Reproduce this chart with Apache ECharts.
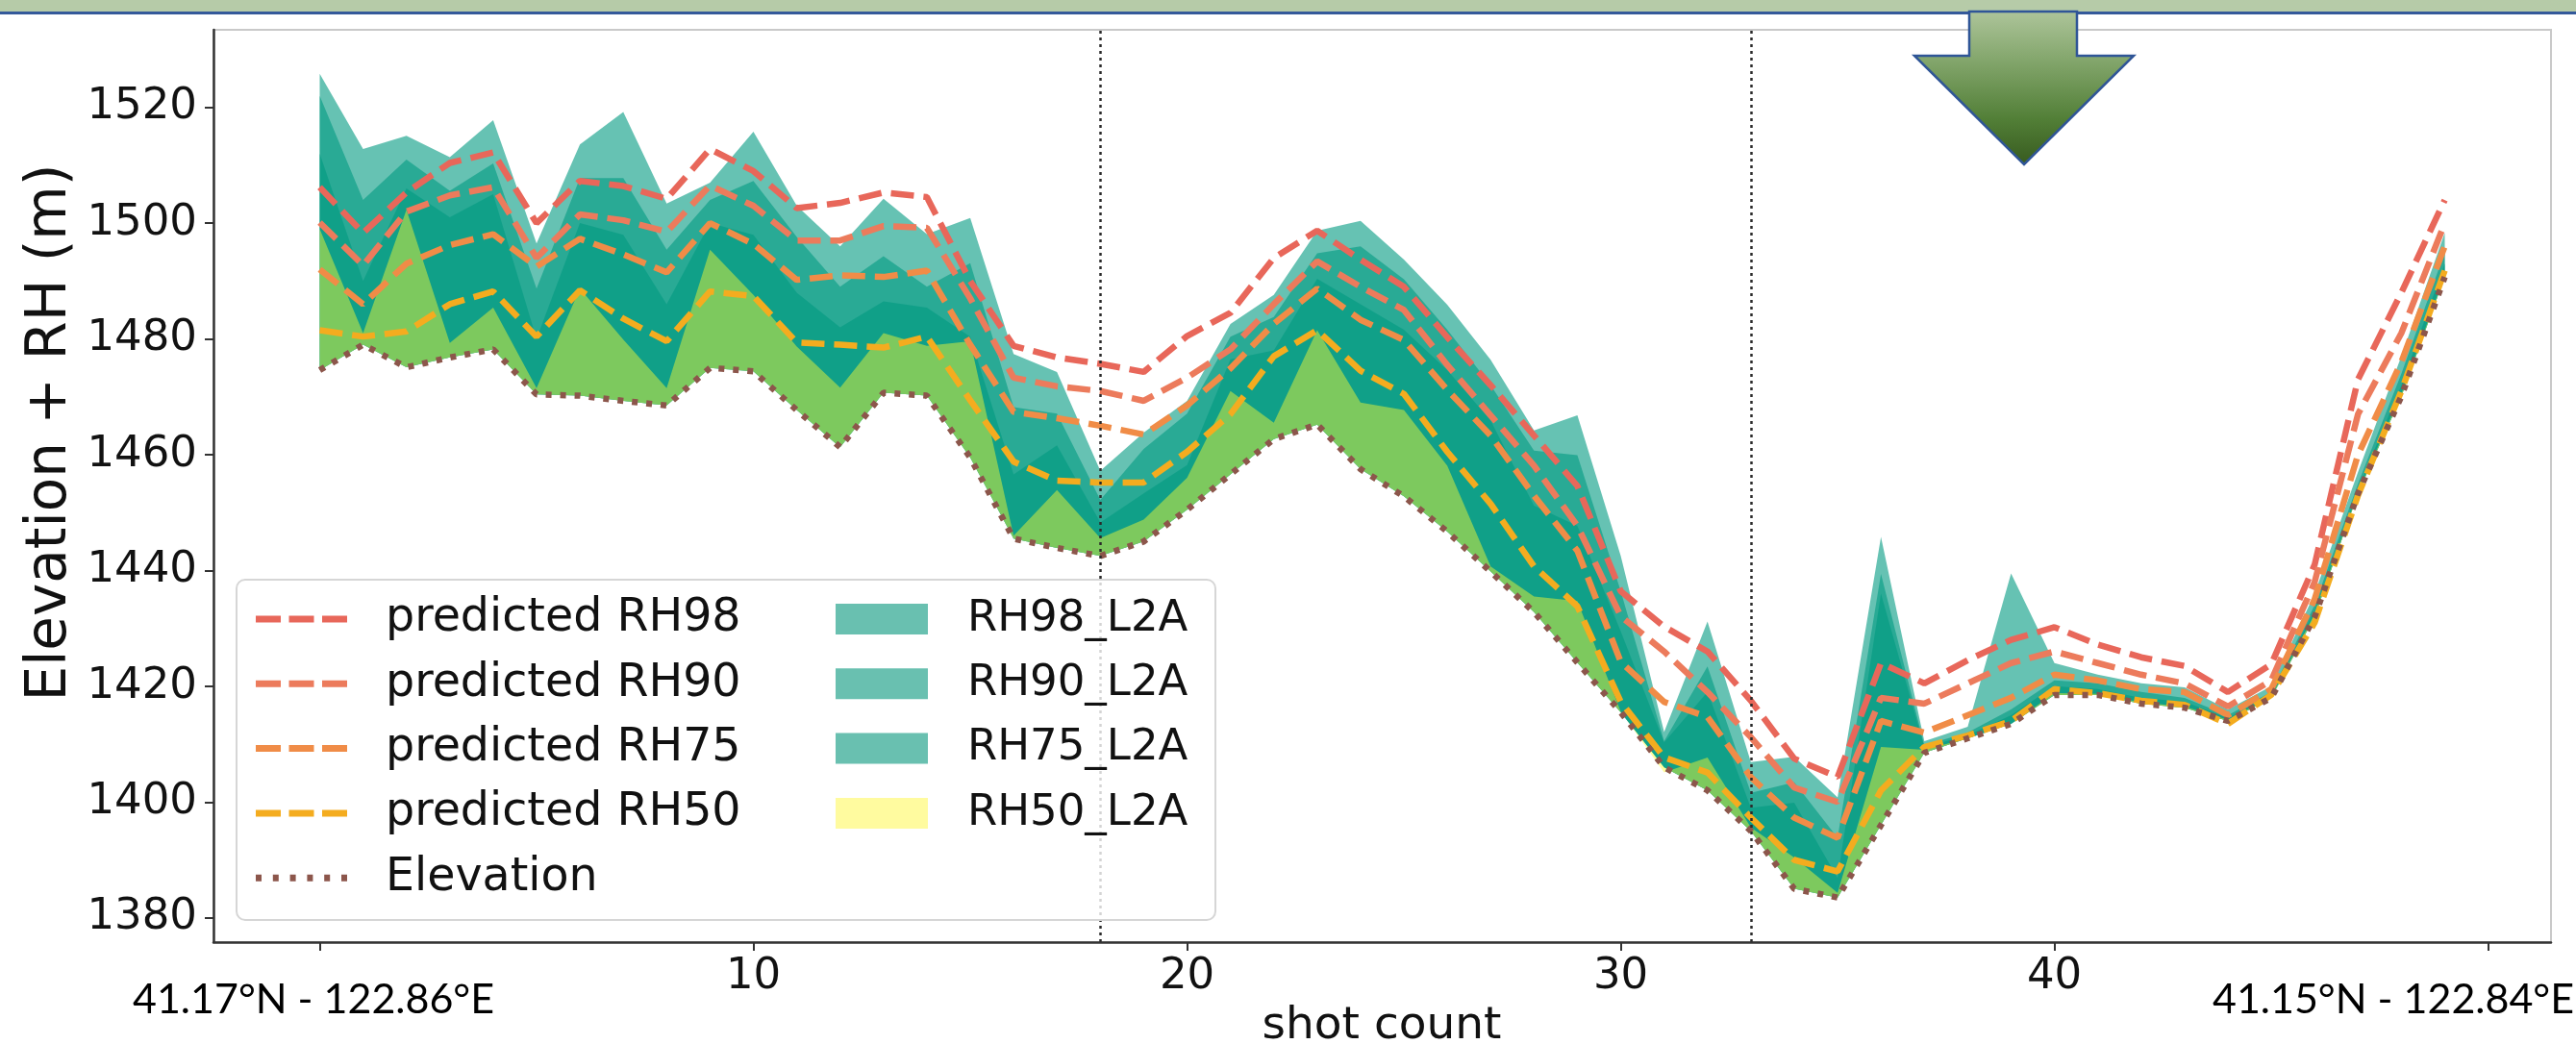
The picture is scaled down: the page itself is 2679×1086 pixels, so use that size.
<!DOCTYPE html>
<html lang="en">
<head>
<meta charset="UTF-8">
<title>Elevation + RH along track</title>
<script src="https://cdn.jsdelivr.net/npm/echarts@6.0.0/dist/echarts.min.js"></script>
<style>
  * { padding: 0; margin: 0; }
  body { background: #fff; }
  #chart { width: 2679px; height: 1086px; }
</style>
</head>
<body>
<div id="chart"></div>
<script>
// shot index along the track
var shotCount = [0,1,2,3,4,5,6,7,8,9,10,11,12,13,14,15,16,17,18,19,20,21,22,23,24,
                 25,26,27,28,29,30,31,32,33,34,35,36,37,38,39,40,41,42,43,44,45,46,47,48,49];

// ground elevation (m)
var elevation = [1474.6,1479.0,1475.1,1476.8,1478.2,1470.4,1470.2,1469.3,1468.5,1475.0,
                 1474.4,1467.7,1461.3,1470.7,1470.2,1459.5,1445.5,1443.9,1442.5,1445.0,
                 1450.5,1456.6,1462.7,1465.2,1457.5,1452.8,1446.7,1439.8,1432.8,1424.1,
                 1415.5,1406.0,1402.0,1395.0,1385.0,1383.5,1396.0,1408.5,1411.0,1413.5,
                 1418.5,1418.5,1417.0,1416.3,1414.0,1418.0,1432.0,1453.3,1470.1,1490.7];

// predicted heights (elevation + RH)
var predRH98 = [1506.2,1498.3,1505.3,1510.4,1512.2,1500.0,1507.3,1506.4,1504.2,1512.8,
                1509.0,1502.6,1503.5,1505.3,1504.5,1490.0,1478.8,1476.8,1475.7,1474.3,
                1480.5,1484.5,1494.0,1498.7,1493.7,1489.0,1480.3,1472.0,1463.3,1454.6,
                1436.4,1430.3,1426.0,1417.5,1407.5,1404.3,1424.0,1420.5,1424.5,1428.0,
                1430.2,1427.2,1425.0,1423.5,1419.0,1423.8,1441.0,1473.0,1488.0,1504.0];
var predRH90 = [1500.1,1492.7,1502.0,1504.8,1506.2,1494.0,1501.5,1500.5,1498.5,1506.5,
                1503.0,1497.0,1497.0,1499.5,1499.2,1487.0,1473.3,1471.8,1471.0,1469.3,
                1473.3,1478.2,1486.0,1493.4,1489.0,1485.0,1475.5,1466.8,1458.1,1447.7,
                1432.1,1426.0,1419.0,1411.2,1402.5,1400.0,1418.0,1417.0,1420.5,1424.0,
                1426.0,1424.0,1422.0,1420.5,1416.5,1421.0,1438.0,1467.0,1481.0,1500.0];
var predRH75 = [1492.0,1486.0,1493.0,1496.2,1498.1,1492.5,1497.3,1494.6,1491.5,1500.0,
                1496.4,1490.2,1491.0,1490.7,1491.8,1479.0,1467.4,1466.3,1465.0,1463.5,
                1468.5,1474.9,1482.6,1488.7,1483.3,1479.8,1471.2,1463.3,1452.9,1443.4,
                1424.2,1417.3,1414.7,1404.3,1397.3,1393.8,1414.0,1412.0,1415.0,1418.0,
                1422.0,1421.0,1419.5,1419.0,1415.0,1419.5,1435.0,1460.0,1476.0,1496.0];
var predRH50 = [1481.5,1480.4,1481.3,1486.0,1488.2,1480.4,1488.4,1483.5,1479.6,1488.2,
                1487.4,1479.4,1479.0,1478.5,1480.4,1469.4,1458.8,1455.5,1455.2,1455.2,
                1460.5,1467.0,1477.0,1481.5,1474.5,1470.5,1460.5,1451.5,1440.7,1433.8,
                1417.3,1407.7,1405.1,1397.3,1390.0,1388.0,1402.0,1409.5,1411.5,1414.0,
                1419.5,1418.8,1417.5,1416.8,1413.5,1418.5,1431.0,1453.0,1471.0,1491.8];

// GEDI L2A heights (elevation + RH)
var l2aRH98 = [1525.8,1512.8,1515.1,1511.4,1517.8,1496.5,1513.6,1519.2,1503.4,1507.0,
               1515.8,1503.0,1496.0,1504.2,1498.1,1500.9,1477.4,1474.3,1457.2,1463.8,
               1469.3,1482.6,1487.6,1498.7,1500.4,1493.7,1485.9,1476.4,1464.2,1466.8,
               1442.5,1412.1,1431.2,1406.9,1407.8,1400.8,1445.8,1410.5,1413.0,1439.5,
               1424.0,1422.0,1420.5,1419.8,1416.0,1420.0,1436.0,1457.0,1477.0,1498.3];
var l2aRH90 = [1522.0,1504.0,1511.0,1505.6,1510.3,1488.7,1507.8,1507.8,1495.4,1504.0,
               1507.3,1497.6,1489.0,1494.3,1489.0,1493.1,1468.2,1467.1,1452.2,1461.0,
               1467.1,1480.4,1483.8,1494.8,1496.0,1490.3,1481.6,1472.0,1460.7,1459.9,
               1436.4,1410.5,1423.4,1401.6,1403.4,1393.8,1439.4,1409.8,1412.0,1416.0,
               1421.0,1420.5,1419.0,1418.0,1415.0,1419.0,1434.0,1455.0,1474.0,1495.0];
var l2aRH75 = [1512.0,1490.0,1506.0,1501.0,1505.0,1480.0,1500.0,1498.0,1486.0,1500.0,
               1498.0,1488.0,1482.0,1486.5,1485.4,1480.4,1456.6,1461.6,1448.3,1453.3,
               1458.2,1476.5,1478.0,1490.4,1486.0,1481.6,1474.6,1465.9,1451.2,1447.7,
               1429.5,1410.3,1419.0,1399.0,1399.9,1386.9,1436.0,1409.5,1411.5,1415.0,
               1420.0,1419.5,1418.0,1417.3,1414.5,1418.5,1433.0,1454.0,1472.0,1493.0];
var l2aRH50 = [1499.0,1481.0,1502.3,1479.3,1485.4,1471.5,1488.7,1479.9,1471.5,1495.4,
               1487.6,1478.7,1471.6,1481.0,1478.8,1479.6,1446.0,1453.9,1445.6,1448.8,
               1456.0,1471.0,1465.5,1481.5,1469.0,1467.7,1458.1,1440.7,1435.5,1434.7,
               1415.6,1405.1,1407.7,1395.6,1390.4,1384.3,1409.5,1409.0,1411.0,1413.5,
               1418.8,1418.7,1417.2,1416.5,1414.2,1418.2,1432.5,1453.6,1470.5,1491.0];

// axes
var xTicks = [0, 10, 20, 30, 40, 50];
var xLabelTicks = [10, 20, 30, 40];
var yTicks = [1380, 1400, 1420, 1440, 1460, 1480, 1500, 1520];
var markerShots = [18, 33];
var endLabels = ['41.17°N - 122.86°E', '41.15°N - 122.84°E'];

var FONT = 'DejaVu Sans';
var TEAL = 'rgba(0,154,128,0.6)';
var TEAL_PATCH = '#69c0b0';
var YELLOW = 'rgba(255,250,46,0.46)';
var YELLOW_PATCH = '#fffb9f';

function pairs(arr) {
    return shotCount.map(function (x, i) { return [x, arr[i]]; });
}

// translucent fill between the ground line and elevation + RH
function band(name, top, fill, patch) {
    return {
        name: name,
        type: 'custom',
        coordinateSystem: 'cartesian2d',
        data: pairs(top),
        clip: true,
        silent: true,
        z: 1,
        itemStyle: { color: patch },
        renderItem: function (params, api) {
            if (params.dataIndex !== 0) return null;
            var pts = [];
            for (var i = 0; i < shotCount.length; i++) {
                pts.push(api.coord([shotCount[i], top[i]]));
            }
            for (var j = shotCount.length - 1; j >= 0; j--) {
                pts.push(api.coord([shotCount[j], elevation[j]]));
            }
            return { type: 'polygon', shape: { points: pts }, style: { fill: fill } };
        }
    };
}

function dashed(name, arr, color, dash, z) {
    return {
        name: name,
        type: 'line',
        data: pairs(arr),
        symbol: 'none',
        itemStyle: { color: color },
        lineStyle: { color: color, width: 6.5, type: dash },
        silent: true,
        z: z
    };
}

var series = [
    band('RH98_L2A', l2aRH98, TEAL, TEAL_PATCH),
    band('RH90_L2A', l2aRH90, TEAL, TEAL_PATCH),
    band('RH75_L2A', l2aRH75, TEAL, TEAL_PATCH),
    band('RH50_L2A', l2aRH50, YELLOW, YELLOW_PATCH),
    dashed('predicted RH98', predRH98, '#e8675a', [24, 10], 3),
    dashed('predicted RH90', predRH90, '#ec7b5c', [24, 10], 3),
    dashed('predicted RH75', predRH75, '#f08c47', [24, 10], 3),
    dashed('predicted RH50', predRH50, '#f4ac1f', [24, 10], 3),
    dashed('Elevation', elevation, '#8c564b', [6, 9], 4),
    {
        name: 'markers',
        type: 'line',
        data: [],
        silent: true,
        z: 5,
        markLine: {
            silent: true,
            symbol: 'none',
            label: { show: false },
            lineStyle: { color: '#2b2b2b', width: 2.5, type: [3, 4] },
            data: markerShots.map(function (s) { return { xAxis: s }; })
        }
    }
];

var dashIcon = 'path://M0,0h26v7h-26z M34.5,0h26v7h-26z M69,0h26v7h-26z';
var dotIcon = 'path://M0,0h6v7h-6z M17.8,0h6v7h-6z M35.6,0h6v7h-6z M53.4,0h6v7h-6z M71.2,0h6v7h-6z M89,0h6v7h-6z';

function legendItem(name, icon, color) {
    return { name: name, icon: icon, itemStyle: { color: color, borderWidth: 0, opacity: 1 } };
}

var chart = echarts.init(document.getElementById('chart'));
chart.setOption({
    animation: false,
    backgroundColor: '#fff',
    grid: {
        left: 222, right: 26, top: 31, bottom: 106,
        outerBoundsMode: 'none',
        containLabel: false,
        show: true, borderColor: '#c9c9c9', borderWidth: 2
    },
    xAxis: {
        type: 'value',
        min: -2.45, max: 51.45,
        axisLine: { onZero: false, lineStyle: { color: '#333', width: 2.5 } },
        axisTick: { customValues: xTicks, length: 9, lineStyle: { color: '#333', width: 2 } },
        axisLabel: { customValues: xLabelTicks, margin: 14, fontFamily: FONT, fontSize: 45, color: '#111' },
        splitLine: { show: false },
        z: 10
    },
    yAxis: {
        type: 'value',
        min: 1375.8, max: 1533.4,
        axisLine: { show: true, onZero: false, lineStyle: { color: '#333', width: 2.5 } },
        axisTick: { show: true, customValues: yTicks, length: 9, lineStyle: { color: '#333', width: 2 } },
        axisLabel: {
            customValues: yTicks, margin: 17, fontFamily: FONT, fontSize: 45, color: '#111',
            formatter: function (v) { return String(v); }
        },
        splitLine: { show: false },
        z: 10
    },
    legend: [{
        orient: 'vertical',
        left: 266, top: 620,
        padding: 0, z: 8,
        itemWidth: 95, itemHeight: 7, itemGap: 19.3,
        selectedMode: false,
        textStyle: { fontFamily: FONT, fontSize: 47.5, lineHeight: 48, color: '#111', padding: [0, 0, 0, 35] },
        data: [
            legendItem('predicted RH98', dashIcon, '#e8675a'),
            legendItem('predicted RH90', dashIcon, '#ec7b5c'),
            legendItem('predicted RH75', dashIcon, '#f08c47'),
            legendItem('predicted RH50', dashIcon, '#f4ac1f'),
            legendItem('Elevation', dotIcon, '#8c564b')
        ]
    }, {
        orient: 'vertical',
        left: 869, top: 620,
        padding: 0, z: 8,
        itemWidth: 96, itemHeight: 32, itemGap: 19.3,
        selectedMode: false,
        textStyle: { fontFamily: FONT, fontSize: 45, lineHeight: 48, color: '#111', padding: [0, 0, 0, 36] },
        data: [
            legendItem('RH98_L2A', 'rect', TEAL_PATCH),
            legendItem('RH90_L2A', 'rect', TEAL_PATCH),
            legendItem('RH75_L2A', 'rect', TEAL_PATCH),
            legendItem('RH50_L2A', 'rect', YELLOW_PATCH)
        ]
    }],
    graphic: [
        // axis titles
        { type: 'text', z: 20, x: 53, y: 450, rotation: Math.PI / 2,
          style: { text: 'Elevation + RH (m)', align: 'center', verticalAlign: 'middle',
                   font: '58px "DejaVu Sans"', fill: '#111' } },
        { type: 'text', z: 20, x: 1437, y: 1068,
          style: { text: 'shot count', align: 'center', verticalAlign: 'middle',
                   font: '47px "DejaVu Sans"', fill: '#111' } },
        // legend frame
        { type: 'rect', z: 6, shape: { x: 246, y: 603, width: 1018, height: 354, r: 9 },
          style: { fill: 'rgba(255,255,255,0.8)', stroke: '#d6d6d6', lineWidth: 2 } },
        // slide header band
        { type: 'rect', z: 20, shape: { x: 0, y: 0, width: 2679, height: 12 }, style: { fill: '#b6cba8' } },
        { type: 'rect', z: 20, shape: { x: 0, y: 12, width: 2679, height: 3 }, style: { fill: '#34599a' } },
        // arrow
        { type: 'polygon', z: 21,
          shape: { points: [[2048, 12], [2048, 58], [1991, 58], [2105, 171], [2219, 58], [2160, 58], [2160, 12]] },
          style: {
              fill: new echarts.graphic.LinearGradient(0, 0, 0, 1, [
                  { offset: 0, color: '#aec59b' },
                  { offset: 0.3, color: '#86a86f' },
                  { offset: 0.7, color: '#527f37' },
                  { offset: 1, color: '#375a1f' }
              ]),
              stroke: '#2f5597', lineWidth: 2.5
          } },
        // coordinate labels at track ends
        { type: 'text', z: 20, style: { text: endLabels[0], x: 326, y: 1040, align: 'center', verticalAlign: 'middle',
          font: '43px Lato', fill: '#000' } },
        { type: 'text', z: 20, style: { text: endLabels[1], x: 2677, y: 1040, align: 'right', verticalAlign: 'middle',
          font: '43px Lato', fill: '#000' } }
    ],
    series: series
});
</script>
</body>
</html>
